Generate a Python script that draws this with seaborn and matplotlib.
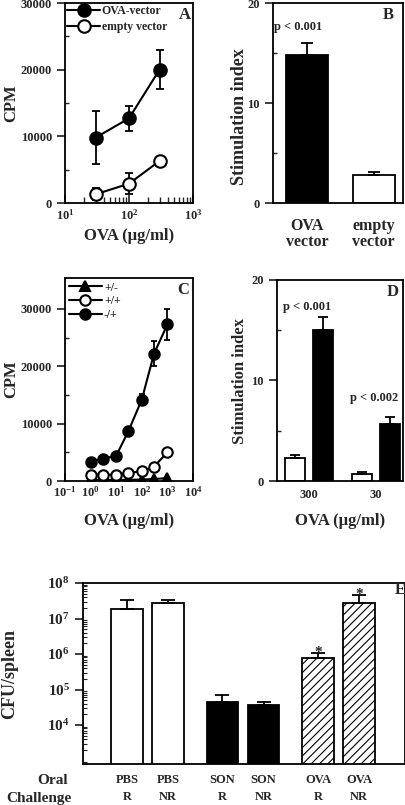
import numpy as np
import pandas as pd
import matplotlib
matplotlib.use("Agg")
import matplotlib.pyplot as plt
import seaborn as sns

# ---- data ----
# panel A: proliferation vs OVA dose
a_dose = [30, 100, 300]
a_ova_vec = [9800, 12700, 20000]
a_ova_vec_err = [4000, 1900, 2900]
a_empty_vec = [1300, 2900, 6300]
a_empty_vec_err = [900, 1600, 300]

# panel B: stimulation index
b_groups = ["OVA\nvector", "empty\nvector"]
b_si = [14.8, 2.8]
b_si_err = [1.2, 0.25]

# panel C: CPM vs OVA dose for three genotypes
c_dose = [1, 3, 10, 30, 100, 300, 1000]
c_pm = [200, 200, 200, 200, 250, 350, 500]          # +/-
c_pp = [1100, 1100, 1100, 1400, 1700, 2500, 5000]   # +/+
c_pp_err = [0, 0, 0, 0, 200, 300, 600]
c_mp = [3400, 3900, 4400, 8700, 14200, 22200, 27300]  # -/+
c_mp_err = [0, 0, 0, 0, 1000, 2200, 2700]

# panel D: stimulation index by OVA dose
d_dose = ["300", "30"]
d_ctrl = [2.3, 0.7]
d_ctrl_err = [0.25, 0.2]
d_ova = [15.0, 5.7]
d_ova_err = [1.3, 0.7]

# panel E: CFU/spleen
e_oral = ["PBS", "SON", "OVA"]
e_challenge = ["R", "NR"]
e_cfu_r = [1.8e7, 4.6e4, 7.7e5]
e_cfu_r_top = [3.4e7, 6.8e4, 1.07e6]
e_cfu_nr = [2.8e7, 3.6e4, 2.8e7]
e_cfu_nr_top = [3.3e7, 4.6e4, 4.6e7]

# ---- style ----
sns.set_theme(style="ticks")
plt.rcParams["font.family"] = ["Liberation Serif", "DejaVu Serif"]
plt.rcParams["font.weight"] = "bold"
plt.rcParams["axes.labelweight"] = "bold"
plt.rcParams["axes.linewidth"] = 1.3
plt.rcParams["xtick.labelsize"] = 9
plt.rcParams["ytick.labelsize"] = 9
plt.rcParams["axes.labelsize"] = 12
plt.rcParams["hatch.linewidth"] = 0.8
plt.rcParams["mathtext.fontset"] = "custom"
plt.rcParams["mathtext.rm"] = "Liberation Serif:bold"
plt.rcParams["mathtext.bf"] = "Liberation Serif:bold"
plt.rcParams["mathtext.default"] = "bf"

W, H = 406, 805
fig = plt.figure(figsize=(W / 100, H / 100), dpi=100)


def box(l, r, t, b):
    return [l / W, 1 - b / H, (r - l) / W, (b - t) / H]


def frame(ax):
    for s in ax.spines.values():
        s.set_visible(True)
        s.set_color("black")
        s.set_linewidth(1.3)


def style_markers(lines, faces):
    for l, fc in zip(lines, faces):
        l.set_markerfacecolor(fc)
        l.set_markeredgecolor("black")
        l.set_markeredgewidth(1.5)


axA = fig.add_axes(box(65, 193, 3, 203))
axB = fig.add_axes(box(273, 403, 3, 203))
axC = fig.add_axes(box(65, 193, 278, 481))
axD = fig.add_axes(box(277, 403, 280, 481))
axE = fig.add_axes(box(83, 405, 583, 764))

# ---- panel A ----
dfA = pd.DataFrame({
    "dose": a_dose * 2,
    "cpm": a_ova_vec + a_empty_vec,
    "group": ["OVA-vector"] * 3 + ["empty vector"] * 3,
})
for vals, errs in [(a_ova_vec, a_ova_vec_err), (a_empty_vec, a_empty_vec_err)]:
    axA.errorbar(a_dose, vals, yerr=errs, fmt="none", ecolor="black",
                 elinewidth=1.3, capsize=3, capthick=1.3)
n0 = len(axA.lines)
sns.lineplot(data=dfA, x="dose", y="cpm", hue="group", style="group",
             palette=["black", "black"], markers=["o", "o"], dashes=False,
             lw=1.5, ms=9, ax=axA, legend=True)
style_markers(axA.lines[n0:n0 + 2], ["black", "white"])
axA.set_xscale("log")
axA.set_xlim(10, 1000)
axA.set_ylim(0, 30000)
axA.set_yticks([0, 10000, 20000, 30000])
axA.set_yticks([5000, 15000, 25000], minor=True)
axA.tick_params(axis="x", which="both", direction="in")
axA.tick_params(axis="y", which="minor", direction="in", length=3)
axA.set_xlabel("OVA (µg/ml)")
axA.set_ylabel("CPM")
axA.xaxis.set_label_coords(0.5, -0.125)
axA.yaxis.set_label_coords(-0.36, 0.5)
hA, _ = axA.get_legend_handles_labels()
style_markers(hA, ["black", "white"])
axA.legend(hA, ["OVA-vector", "empty vector"], loc="upper left", frameon=False,
           fontsize=8.5, handlelength=2.8, borderaxespad=0.1, handletextpad=0.1,
           labelspacing=0.3, borderpad=0.1)
axA.text(0.94, 0.94, "A", transform=axA.transAxes, ha="center", va="center",
         fontsize=12, fontweight="bold")
frame(axA)

# ---- panel B ----
dfB = pd.DataFrame({"group": b_groups, "si": b_si})
sns.barplot(data=dfB, x="group", y="si", hue="group", palette=["black", "white"],
            edgecolor="black", linewidth=1.3, width=0.63, errorbar=None,
            legend=False, ax=axB)
axB.errorbar(range(len(b_si)), b_si, yerr=[[0] * len(b_si), b_si_err], fmt="none",
             ecolor="black", elinewidth=1.3, capsize=4, capthick=1.3)
axB.set_xlim(-0.51, 1.44)
axB.set_ylim(0, 20)
axB.set_yticks([0, 10, 20])
axB.set_yticks([5, 15], minor=True)
axB.tick_params(axis="y", which="minor", direction="in", length=3)
axB.tick_params(axis="x", length=0, labelsize=11.5, pad=11)
for t in axB.get_xticklabels():
    t.set_linespacing(0.95)
axB.set_xlabel("")
axB.set_ylabel("Stimulation index", fontsize=13)
axB.yaxis.set_label_coords(-0.19, 0.43)
axB.text(-0.13, b_si[0] + b_si_err[0] + 1.6, "p < 0.001", ha="center", va="center", fontsize=9)
axB.text(0.89, 0.94, "B", transform=axB.transAxes, ha="center", va="center",
         fontsize=12, fontweight="bold")
frame(axB)

# ---- panel C ----
dfC = pd.DataFrame({
    "dose": c_dose * 3,
    "cpm": c_pm + c_pp + c_mp,
    "genotype": ["+/-"] * 7 + ["+/+"] * 7 + ["-/+"] * 7,
})
for vals, errs in [(c_mp, c_mp_err), (c_pp, c_pp_err)]:
    axC.errorbar(c_dose, vals, yerr=errs, fmt="none", ecolor="black",
                 elinewidth=1.3, capsize=2.5, capthick=1.3)
n0 = len(axC.lines)
sns.lineplot(data=dfC, x="dose", y="cpm", hue="genotype", style="genotype",
             palette=["black"] * 3, markers=["^", "o", "o"], dashes=False,
             lw=1.5, ms=7.5, ax=axC, legend=True)
style_markers(axC.lines[n0:n0 + 3], ["black", "white", "black"])
axC.set_xscale("log")
axC.set_xlim(0.1, 10000)
axC.set_xticks([0.1, 1, 10, 100, 1000, 10000])
axC.set_ylim(0, 35400)
axC.set_yticks([0, 10000, 20000, 30000])
axC.set_yticks([5000, 15000, 25000], minor=True)
axC.tick_params(axis="x", which="both", direction="in")
axC.tick_params(axis="y", which="minor", direction="in", length=3)
axC.tick_params(axis="x", labelsize=9, pad=3)
axC.set_xlabel("OVA (µg/ml)")
axC.set_ylabel("CPM")
axC.xaxis.set_label_coords(0.5, -0.16)
axC.yaxis.set_label_coords(-0.36, 0.5)
hC, _ = axC.get_legend_handles_labels()
style_markers(hC, ["black", "white", "black"])
axC.legend(hC, ["+/-", "+/+", "-/+"], loc="upper left", frameon=False,
           fontsize=8.5, handlelength=2.8, borderaxespad=0.2, handletextpad=0.2,
           labelspacing=0.15, borderpad=0.1)
axC.text(0.92, 0.94, "C", transform=axC.transAxes, ha="center", va="center",
         fontsize=12, fontweight="bold")
frame(axC)

# ---- panel D ----
dfD = pd.DataFrame({
    "dose": d_dose * 2,
    "si": d_ctrl + d_ova,
    "vec": ["ctrl"] * 2 + ["ova"] * 2,
})
sns.barplot(data=dfD, x="dose", y="si", hue="vec", palette=["white", "black"],
            edgecolor="black", linewidth=1.3, width=0.84, gap=0.28, errorbar=None,
            legend=False, ax=axD)
p_text = ["p < 0.001", "p < 0.002"]
p_lift = [1.0, 1.9]
for k, (cont, err) in enumerate(zip(axD.containers, [d_ctrl_err, d_ova_err])):
    xs = [b.get_x() + b.get_width() / 2 for b in cont]
    ys = [b.get_height() for b in cont]
    axD.errorbar(xs, ys, yerr=[[0] * len(err), err], fmt="none", ecolor="black",
                 elinewidth=1.3, capsize=3.5, capthick=1.3)
    if k == 1:
        for x, y, e, p, lift in zip(xs, ys, err, p_text, p_lift):
            axD.text(x - 0.24, y + e + lift, p, ha="center", va="center", fontsize=9)
axD.set_xlim(-0.48, 1.40)
axD.set_ylim(0, 20)
axD.set_yticks([0, 10, 20])
axD.set_yticks([5, 15], minor=True)
axD.tick_params(axis="y", which="minor", direction="in", length=3)
axD.tick_params(axis="x", length=0, pad=6)
axD.set_xlabel("OVA (µg/ml)")
axD.set_ylabel("Stimulation index")
axD.xaxis.set_label_coords(0.5, -0.16)
axD.yaxis.set_label_coords(-0.23, 0.5)
axD.text(0.92, 0.94, "D", transform=axD.transAxes, ha="center", va="center",
         fontsize=12, fontweight="bold")
frame(axD)

# ---- panel E ----
dfE = pd.DataFrame({
    "oral": e_oral * 2,
    "cfu": e_cfu_r + e_cfu_nr,
    "challenge": ["R"] * 3 + ["NR"] * 3,
})
sns.barplot(data=dfE, x="oral", y="cfu", hue="challenge", palette=["white", "white"],
            edgecolor="black", linewidth=1.3, width=0.86, gap=0.24, errorbar=None,
            legend=False, log_scale=(False, True), ax=axE)
face = {"PBS": "white", "SON": "black", "OVA": "white"}
hatch = {"PBS": "", "SON": "", "OVA": "////"}
ticks, labels = [], []
for cont, tops, ch in zip(axE.containers, [e_cfu_r_top, e_cfu_nr_top], e_challenge):
    for bar, grp, top in zip(cont, e_oral, tops):
        y = bar.get_y() + bar.get_height()
        # start the bar below the visible range so it shows on the log axis
        bar.set_y(1)
        bar.set_height(y - 1)
        bar.set_facecolor(face[grp])
        bar.set_hatch(hatch[grp])
        x = bar.get_x() + bar.get_width() / 2
        axE.errorbar([x], [y], yerr=[[0], [top - y]], fmt="none", ecolor="black",
                     elinewidth=1.3, capsize=5, capthick=1.3)
        if grp == "OVA":
            axE.text(x, top * 1.05, "*", ha="center", va="center", fontsize=11)
        ticks.append(x)
        labels.append(grp + "\n" + ch)
order = np.argsort(ticks)
axE.set_xticks(np.array(ticks)[order])
axE.set_xticklabels(np.array(labels)[order], fontsize=9, linespacing=1.6)
axE.tick_params(axis="x", length=0, pad=7)
axE.set_xlim(-0.675, 2.696)
axE.set_ylim(8e2, 1e8)
axE.set_yticks([1e4, 1e5, 1e6, 1e7, 1e8])
minor_e = [k * 10.0 ** n for n in range(2, 8) for k in range(2, 10)]
axE.set_yticks([m for m in minor_e if 8e2 <= m <= 1e8], minor=True)
axE.yaxis.set_minor_formatter(matplotlib.ticker.NullFormatter())
axE.tick_params(axis="y", which="major", labelsize=11)
axE.tick_params(axis="y", which="minor", direction="in", length=3, width=0.8, left=True)
axE.set_xlabel("")
axE.set_ylabel("CFU/spleen", fontsize=13)
axE.yaxis.set_label_coords(-0.2, 0.5)
axE.text(-0.047, -0.09, "Oral", transform=axE.transAxes, ha="right", va="center", fontsize=11)
axE.text(-0.035, -0.19, "Challenge", transform=axE.transAxes, ha="right", va="center",
         fontsize=11)
axE.text(0.985, 0.96, "E", transform=axE.transAxes, ha="center", va="center",
         fontsize=12, fontweight="bold")
frame(axE)

fig.savefig("out.png", dpi=100)
